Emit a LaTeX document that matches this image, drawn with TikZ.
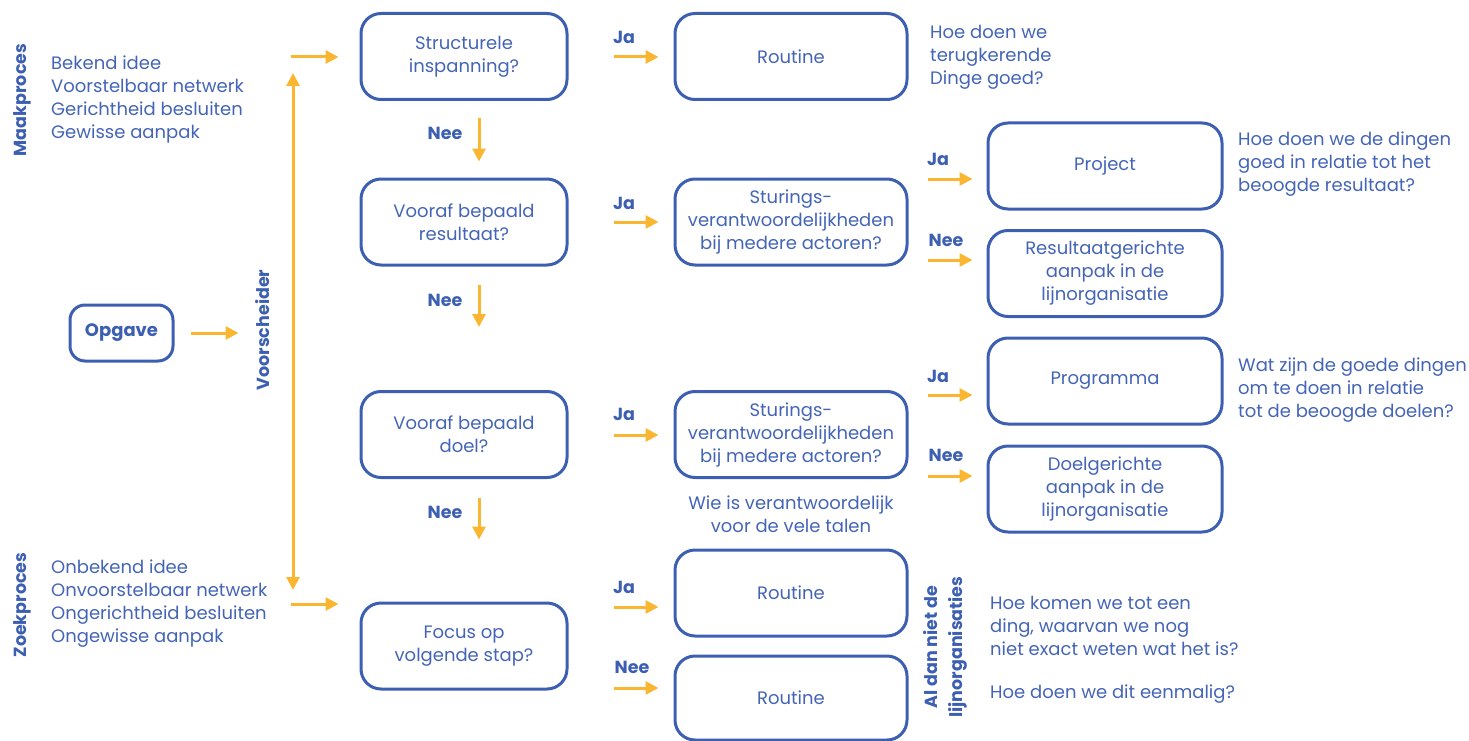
\documentclass[tikz,border=0pt]{standalone}
\usepackage{fontspec}
\setmainfont{Poppins}
\usetikzlibrary{arrows.meta,calc}
\definecolor{navy}{HTML}{3D5FB2}
\definecolor{ink}{HTML}{4464B6}
\definecolor{amber}{HTML}{FBB631}
\begin{document}
\begin{tikzpicture}[x=1pt,y=-1pt,
  base/.style={text=ink,font=\fontsize{18}{23}\selectfont},
  box/.style={base,draw=navy,line width=3pt,rounded corners=20pt,align=center,inner sep=0pt},
  qbox/.style={box,minimum width=206pt,minimum height=86pt},
  wbox/.style={box,minimum width=232pt,minimum height=86pt},
  pbox/.style={box,minimum width=234pt,minimum height=86pt},
  note/.style={base,align=left,anchor=west,inner sep=0pt},
  lbl/.style={text=navy,font=\fontsize{17.5}{25}\selectfont\bfseries,inner sep=0pt},
  side/.style={lbl,rotate=90,align=center},
  arr/.style={draw=amber,line width=3pt,-{Triangle[length=13pt,width=13pt]}},
  darr/.style={draw=amber,line width=3pt,{Triangle[length=13pt,width=13pt]}-{Triangle[length=13pt,width=13pt]}}]
\useasboundingbox (0,0) rectangle (1469,741);

% left column
\node[side] (maak) at (22,100) {Maakproces};
\node[note] (maaklist) at (51,99) {Bekend idee\\Voorstelbaar netwerk\\Gerichtheid besluiten\\Gewisse aanpak};
\node[side] (zoek) at (22,605) {Zoekproces};
\node[note] (zoeklist) at (51,604) {Onbekend idee\\Onvoorstelbaar netwerk\\Ongerichtheid besluiten\\Ongewisse aanpak};

\node[box,minimum width=103pt,minimum height=56pt,rounded corners=15pt,font=\fontsize{18}{20}\selectfont\bfseries,text=navy] (opg) at (121.5,333) {Opgave};
\node[side] (voor) at (263,330) {Voorscheider};

% question column
\node[qbox] (q1) at (464,56.5) {Structurele\\inspanning?};
\node[qbox] (q2) at (464,222) {Vooraf bepaald\\resultaat?};
\node[qbox] (q3) at (464,434.5) {Vooraf bepaald\\doel?};
\node[qbox] (q4) at (464,646) {Focus op\\volgende stap?};

% second column
\node[wbox] (r1) at (791,56.5) {Routine};
\node[wbox] (st1) at (791,222) {Sturings-\\verantwoordelijkheden\\bij medere actoren?};
\node[wbox] (st2) at (791,434.5) {Sturings-\\verantwoordelijkheden\\bij medere actoren?};
\node[wbox] (r2) at (791,593) {Routine};
\node[wbox,minimum height=84pt] (r3) at (791,698) {Routine};

% third column
\node[pbox] (pj) at (1105,166) {Project};
\node[pbox] (rg) at (1105,273.5) {Resultaatgerichte\\aanpak in de\\lijnorganisatie};
\node[pbox] (pg) at (1105,381) {Programma};
\node[pbox] (dg) at (1105,489) {Doelgerichte\\aanpak in de\\lijnorganisatie};

% notes
\node[note] (n1) at (930,57) {Hoe doen we\\terugkerende\\Dinge goed?};
\node[note] (n2) at (1238,164) {Hoe doen we de dingen\\goed in relatie tot het\\beoogde resultaat?};
\node[note] (n3) at (1238,390) {Wat zijn de goede dingen\\om te doen in relatie\\tot de beoogde doelen?};
\node[base,align=center,inner sep=0pt] (n4) at (791,514) {Wie is verantwoordelijk\\voor de vele talen};
\node[side] (lijn) at (945,647) {Al dan niet de\\lijnorganisaties};
\node[note] (n5) at (990,626) {Hoe komen we tot een\\ding, waarvan we nog\\niet exact weten wat het is?};
\node[note] (n6) at (990,694) {Hoe doen we dit eenmalig?};

% feed arrows
\draw[arr] ($(opg.east)+(16,0)$) -- ($(opg.east)+(64,0)$);
\draw[darr] (293,73) coordinate (vtop) -- (293,590) coordinate (vbot);
\draw[arr] ($(q1.west)+(-69,0.5)$) -- ($(q1.west)+(-21,0.5)$);
\draw[arr] ($(q4.west)+(-69,-42)$) -- ($(q4.west)+(-21,-42)$);

% yes branches
\draw[arr] ($(q1.east)+(45,0.5)$) -- ($(r1.west)+(-15,0.5)$);
\node[lbl] (ja1) at (624,37) {Ja};
\draw[arr] ($(q2.east)+(45,0)$) -- ($(st1.west)+(-15,0)$);
\node[lbl] (ja2) at (624,203) {Ja};
\draw[arr] ($(q3.east)+(45,0.5)$) -- ($(st2.west)+(-15,0.5)$);
\node[lbl] (ja3) at (624,414) {Ja};
\draw[arr] ($(q4.east)+(45,-39)$) -- ($(r2.west)+(-15,14)$);
\node[lbl] (ja4) at (624,587) {Ja};
\draw[arr] ($(q4.east)+(45,42)$) -- ($(r3.west)+(-15,-10)$);
\node[lbl] (nee4) at (632,667) {Nee};

\draw[arr] ($(st1.east)+(19,-43)$) -- ($(pj.west)+(-14,13)$);
\node[lbl] (ja5) at (938,159) {Ja};
\draw[arr] ($(st1.east)+(19,38)$) -- ($(rg.west)+(-14,-13.5)$);
\node[lbl] (nee5) at (946,240) {Nee};
\draw[arr] ($(st2.east)+(19,-39.5)$) -- ($(pg.west)+(-14,14)$);
\node[lbl] (ja6) at (938,376) {Ja};
\draw[arr] ($(st2.east)+(19,41.5)$) -- ($(dg.west)+(-14,-13)$);
\node[lbl] (nee6) at (946,455) {Nee};

% no branches
\draw[arr] ($(q1.south)+(15,17)$) -- ($(q2.north)+(15,-16)$);
\node[lbl] (nee1) at (445,133) {Nee};
\draw[arr] ($(q2.south)+(15,18)$) -- ($(q3.north)+(15,-63)$);
\node[lbl] (nee2) at (445,300) {Nee};
\draw[arr] ($(q3.south)+(15,19)$) -- ($(q4.north)+(15,-62)$);
\node[lbl] (nee3) at (445,512) {Nee};
\end{tikzpicture}
\end{document}
